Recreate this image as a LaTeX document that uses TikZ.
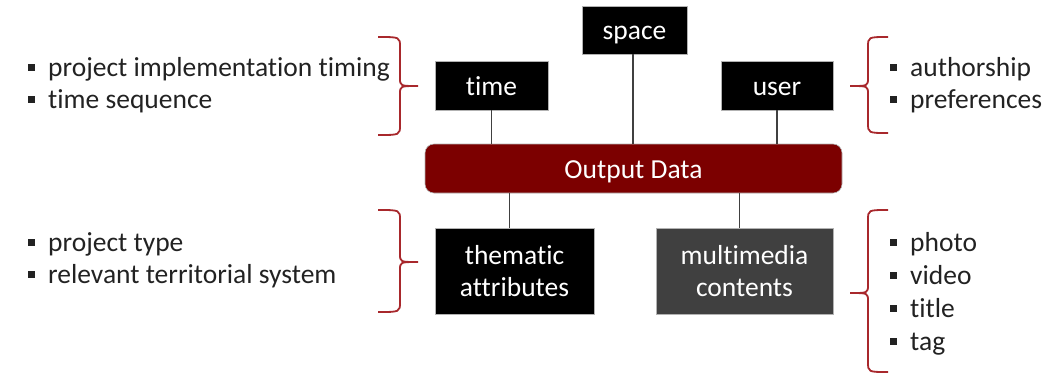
\documentclass[tikz,border=0pt]{standalone}
\usepackage{fontspec}
\setmainfont{Carlito}[Ligatures=NoCommon]
\definecolor{darkred}{HTML}{7C0000}
\definecolor{bracered}{HTML}{A8282C}
\definecolor{boxgray}{HTML}{404040}
\definecolor{txtgray}{HTML}{222222}
\newcommand{\sqb}{\raisebox{0.2em}{\rule{7pt}{7pt}}\hspace{13pt}}
\begin{document}
\begin{tikzpicture}[x=1pt,y=1pt,
  box/.style={fill=black,draw=gray!60,line width=0.6pt,text=white,font=\fontsize{27.5}{32}\selectfont,align=center,inner sep=0pt},
  one/.style={text height=22pt,text depth=3pt},
  conn/.style={draw=boxgray,line width=1.6pt},
  brc/.style={draw=bracered,line width=1.8pt},
  lst/.style={text=txtgray,font=\fontsize{27.5}{32.5}\selectfont,align=left,anchor=north west,inner sep=0pt},
  lstr/.style={lst,font=\fontsize{27.5}{33}\selectfont}]
\useasboundingbox (0,0) rectangle (1051,-376);
% boxes
\node[box,one,minimum width=105,minimum height=48] (space) at (634.5,-30) {space};
\node[box,one,minimum width=113,minimum height=49] (time) at (491.5,-85.5) {time};
\node[box,one,minimum width=112,minimum height=49] (user) at (777,-85.5) {user};
\node[box,one,fill=darkred,rounded corners=9pt,minimum width=417,minimum height=49] (out) at (633.5,-168.5) {Output Data};
\node[box,minimum width=159,minimum height=86] (them) at (514.5,-271) {thematic\\attributes};
\node[box,fill=boxgray,minimum width=177,minimum height=86] (mm) at (744.5,-271) {multimedia\\contents};
% connectors
\draw[conn] (time.south) -- (time.south |- out.north);
\draw[conn] ([xshift=-1.5pt]space.south) -- ([xshift=-1.5pt]space.south |- out.north);
\draw[conn] (user.south) -- (user.south |- out.north);
\draw[conn] ([xshift=-5pt]them.north |- out.south) -- ([xshift=-5pt]them.north);
\draw[conn] ([xshift=-5pt]mm.north |- out.south) -- ([xshift=-5pt]mm.north);
% braces
\draw[brc] (378,-37) .. controls (400,-37) .. (400,-47) -- (400,-78) .. controls (400,-86) .. (418,-86)
  .. controls (400,-86) .. (400,-94) -- (400,-125) .. controls (400,-135) .. (378,-135);
\draw[brc] (378,-210) .. controls (400,-210) .. (400,-220) -- (400,-254) .. controls (400,-262) .. (418,-262)
  .. controls (400,-262) .. (400,-270) -- (400,-302) .. controls (400,-312) .. (378,-312);
\draw[brc] (888,-37) .. controls (868,-37) .. (868,-47) -- (868,-78) .. controls (868,-86) .. (850,-86)
  .. controls (868,-86) .. (868,-94) -- (868,-123) .. controls (868,-133) .. (888,-133);
\draw[brc] (888,-210) .. controls (868,-210) .. (868,-220) -- (868,-285) .. controls (868,-293) .. (850,-293)
  .. controls (868,-293) .. (868,-301) -- (868,-362) .. controls (868,-372) .. (888,-372);
% lists
\node[lst] (l1) at (28,-57) {\sqb project implementation timing\\\sqb time sequence};
\node[lst] (l2) at (28,-232) {\sqb project type\\\sqb relevant territorial system};
\node[lst] (r1) at (890,-57) {\sqb authorship\\\sqb preferences};
\node[lstr] (r2) at (890,-232) {\sqb photo\\\sqb video\\\sqb title\\\sqb tag};
\end{tikzpicture}
\end{document}
